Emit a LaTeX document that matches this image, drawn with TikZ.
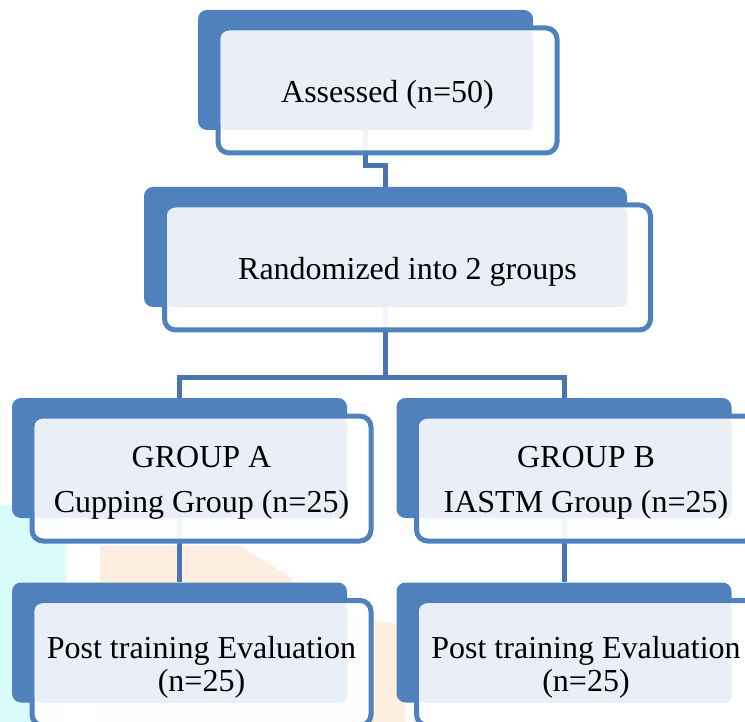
\documentclass[tikz,border=0pt]{standalone}
\usepackage{fontspec}
\setmainfont{Liberation Serif}
\usepackage{xcolor}
\usetikzlibrary{positioning,backgrounds}

\definecolor{boxblue}{HTML}{4F81BD}
\definecolor{linkblue}{HTML}{4A74AE}
\definecolor{paleblue}{HTML}{EAEFF7}
\definecolor{markcyan}{HTML}{DAFBFB}
\definecolor{markpeach}{HTML}{FDEEDF}

\begin{document}
\begin{tikzpicture}[
    x=1pt, y=-1pt,
    back/.style={rectangle, rounded corners=9pt, fill=boxblue, minimum width=335pt, minimum height=120pt, inner sep=0pt},
    front/.style={rectangle, rounded corners=11pt, draw=boxblue, line width=5pt, fill=white, fill opacity=0.93, minimum width=339pt, minimum height=125pt, inner sep=0pt},
    pale/.style={fill=paleblue, rounded corners=7pt},
    txt/.style={align=center, inner sep=0pt, yshift=-4pt, font=\fontsize{32}{33}\selectfont},
    link/.style={draw=linkblue, line width=5pt}
]
    \useasboundingbox (0,0) rectangle (745,722);

    % top
    \node[back] (assessB) at (365.5,70) {};
    \node[front] (assess) at ([shift={(22,20.5)}]assessB) {};
    \fill[pale] ([shift={(5,6)}]assess.north west) rectangle (assessB.south east);
    \node[txt] (assessT) at (assess) {Assessed (n=50)};

    \node[back, minimum width=483pt] (randB) at (385.5,247) {};
    \node[front, minimum width=486pt] (rand) at ([shift={(22,20.5)}]randB) {};
    \fill[pale] ([shift={(5,6)}]rand.north west) rectangle (randB.south east);
    \node[txt] (randT) at (rand) {Randomized into 2 groups};

    % groups
    \node[back] (grpAB) at (179.5,458) {};
    \node[front] (grpA) at ([shift={(22,20.5)}]grpAB) {};
    \fill[pale] ([shift={(5,6)}]grpA.north west) rectangle (grpAB.south east);
    \node[txt] (grpAT) at (grpA) {GROUP A\\[12pt]Cupping Group (n=25)};

    \node[back] (grpBB) at (564,458) {};
    \node[front] (grpB) at ([shift={(22,20.5)}]grpBB) {};
    \fill[pale] ([shift={(5,6)}]grpB.north west) rectangle (grpBB.south east);
    \node[txt] (grpBT) at (grpB) {GROUP B\\[12pt]IASTM Group (n=25)};

    % evaluation
    \node[back] (postAB) at (179.5,642.5) {};
    \node[front] (postA) at ([shift={(22,20.5)}]postAB) {};
    \fill[pale] ([shift={(5,6)}]postA.north west) rectangle (postAB.south east);
    \node[txt] (postAT) at (postA) {Post training Evaluation\\(n=25)};

    \node[back] (postBB) at (564,642.5) {};
    \node[front] (postB) at ([shift={(22,20.5)}]postBB) {};
    \fill[pale] ([shift={(5,6)}]postB.north west) rectangle (postBB.south east);
    \node[txt] (postBT) at (postB) {Post training Evaluation\\(n=25)};

    \begin{scope}[on background layer]
        \fill[markcyan] (0,505) rectangle (66,722);
        \fill[markpeach] (100,722) -- (100,546) -- (240,546) -- (292,578) -- (292,610) -- (405,625) -- (405,722) -- cycle;
        \draw[link] (assessB.south) -- ++(0,35) -| (randB.north);
        \draw[link] (randB.south) -- ++(0,70) -| (grpAB.north);
        \draw[link] (randB.south) -- ++(0,70) -| (grpBB.north);
        \draw[link] (grpAB.south) -- (postAB.north);
        \draw[link] (grpBB.south) -- (postBB.north);
    \end{scope}
\end{tikzpicture}
\end{document}
